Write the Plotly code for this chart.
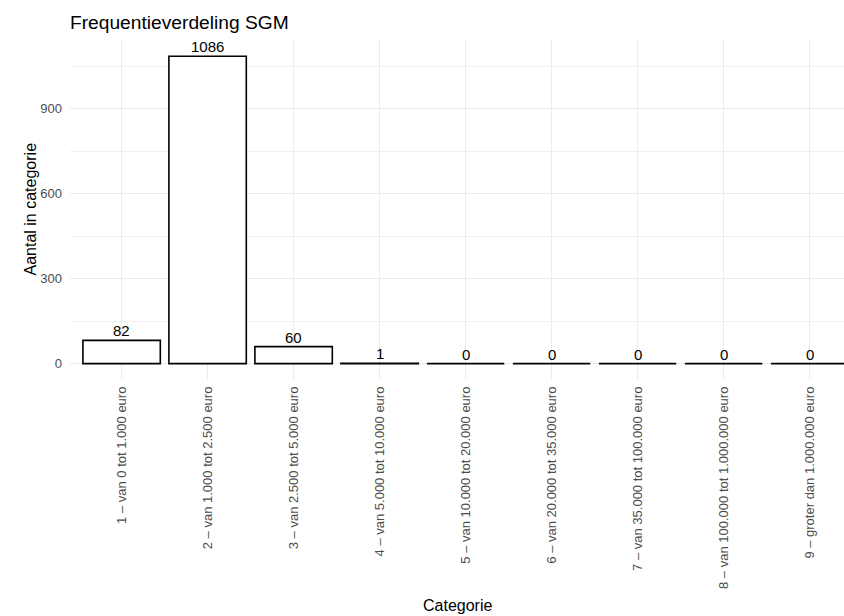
import plotly.graph_objects as go

categories = [
    "1 – van 0 tot 1.000 euro",
    "2 – van 1.000 tot 2.500 euro",
    "3 – van 2.500 tot 5.000 euro",
    "4 – van 5.000 tot 10.000 euro",
    "5 – van 10.000 tot 20.000 euro",
    "6 – van 20.000 tot 35.000 euro",
    "7 – van 35.000 tot 100.000 euro",
    "8 – van 100.000 tot 1.000.000 euro",
    "9 – groter dan 1.000.000 euro",
]
counts = [82, 1086, 60, 1, 0, 0, 0, 0, 0]
y_ticks = [0, 300, 600, 900]
y_minor = [150, 450, 750, 1050]

FONT = "Liberation Sans, Arial, sans-serif"

fig = go.Figure()
fig.add_trace(go.Bar(
    x=list(range(len(categories))),
    y=counts,
    width=0.9,
    marker=dict(color="white", line=dict(color="black", width=1.6)),
    hoverinfo="skip",
))

for i, v in enumerate(counts):
    fig.add_annotation(x=i, y=v, text=str(v), showarrow=False,
                       xanchor="center", yanchor="bottom", yshift=-1,
                       font=dict(family=FONT, size=15, color="black"))

fig.update_layout(
    width=844, height=616,
    margin=dict(l=70, r=0, t=40, b=237),
    paper_bgcolor="white", plot_bgcolor="white",
    showlegend=False,
    font=dict(family=FONT, color="black"),
    title=dict(text="Frequentieverdeling SGM", x=70/844, xanchor="left",
               y=1 - 22/616, yanchor="middle",
               font=dict(family=FONT, size=19.2, color="black")),
    xaxis=dict(
        range=[-0.6, 8.4],
        tickmode="array",
        tickvals=list(range(len(categories))),
        ticktext=categories,
        tickangle=-90,
        tickfont=dict(family=FONT, size=13, color="#4d4d4d"),
        showgrid=True, gridcolor="#ebebeb", gridwidth=1,
        zeroline=False, showline=False, ticks="",
        automargin=False,
        ticklabelstandoff=4,
    ),
    yaxis=dict(
        range=[-54.3, 1143.5],
        tickmode="array",
        tickvals=y_ticks,
        ticktext=[str(v) for v in y_ticks],
        tickfont=dict(family=FONT, size=13, color="#4d4d4d"),
        showgrid=True, gridcolor="#ebebeb", gridwidth=1,
        minor=dict(tickmode="array", tickvals=y_minor,
                   showgrid=True, gridcolor="#f0f0f0", gridwidth=0.8),
        zeroline=False, showline=False, ticks="",
        automargin=False,
        ticklabelstandoff=7,
    ),
    bargap=0.1,
)

fig.add_annotation(text="Aantal in categorie", xref="paper", yref="paper",
                   x=-40/774, y=0.5, textangle=-90, showarrow=False,
                   xanchor="center", yanchor="middle",
                   font=dict(family=FONT, size=16, color="black"))
fig.add_annotation(text="Categorie", xref="paper", yref="paper",
                   x=(457-70)/774, y=-(605-379)/339, showarrow=False,
                   xanchor="center", yanchor="middle",
                   font=dict(family=FONT, size=16, color="black"))

fig.write_html("out.html", config={"displayModeBar": False},
               post_script="document.body.style.margin='0';document.body.style.padding='0';")
